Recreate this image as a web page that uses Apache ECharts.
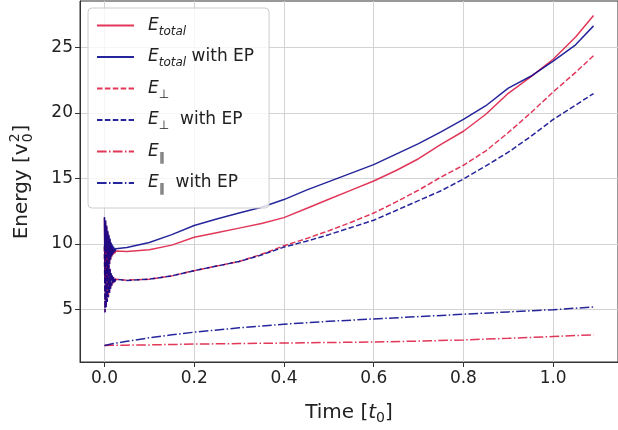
<!DOCTYPE html>
<html>
<head>
<meta charset="utf-8">
<script src="https://cdn.jsdelivr.net/npm/echarts@6/dist/echarts.min.js"></script>
<style>
  html, body { margin: 0; padding: 0; background: #ffffff; }
  #chart { width: 618px; height: 430px; }
</style>
</head>
<body>
<div id="chart"></div>
<script>
// ---- Initial ringing phase (fast oscillation right after start) ----
const tRinging = [0, 0.00125, 0.0025, 0.00375, 0.005, 0.00625, 0.0075, 0.00875,
  0.01, 0.01125, 0.0125, 0.01375, 0.015, 0.01625, 0.0175, 0.01875,
  0.02, 0.02125, 0.0225, 0.02375, 0.025, 0.02625, 0.0275, 0.02875];
const totalRinging   = [12.0, 7.05, 11.7, 7.4, 11.3, 7.8, 10.9, 8.15, 10.55, 8.45, 10.25, 8.78,
  9.93, 9.02, 9.76, 9.15, 9.62, 9.24, 9.53, 9.3, 9.46, 9.34, 9.41, 9.36];
const totalEPRinging = [12.05, 7.0, 11.8, 7.35, 11.4, 7.75, 11.0, 8.1, 10.7, 8.45, 10.4, 8.8,
  10.1, 9.05, 9.95, 9.2, 9.8, 9.35, 9.7, 9.42, 9.62, 9.48, 9.58, 9.52];
const perpRinging    = [9.8, 4.8, 9.5, 5.2, 9.1, 5.6, 8.7, 5.95, 8.35, 6.27, 8.05, 6.6,
  7.75, 6.82, 7.58, 6.96, 7.45, 7.06, 7.36, 7.13, 7.29, 7.18, 7.25, 7.21];
const perpEPRinging  = [9.85, 4.75, 9.55, 5.15, 9.15, 5.55, 8.75, 5.9, 8.4, 6.25, 8.1, 6.55,
  7.8, 6.8, 7.6, 6.95, 7.47, 7.05, 7.38, 7.12, 7.3, 7.17, 7.26, 7.2];

// ---- Smooth evolution after the ringing has decayed ----
const tMain = [0.03, 0.05, 0.1, 0.15, 0.2, 0.25, 0.3, 0.35, 0.4, 0.45, 0.5, 0.55,
  0.6, 0.65, 0.7, 0.75, 0.8, 0.85, 0.9, 0.95, 1.0, 1.05, 1.09];
const totalMain   = [9.36, 9.42, 9.55, 9.9, 10.5, 10.85, 11.2, 11.55, 12.0, 12.7, 13.4, 14.1,
  14.8, 15.6, 16.5, 17.6, 18.6, 19.9, 21.5, 22.75, 24.1, 25.8, 27.45];
const totalEPMain = [9.55, 9.72, 10.1, 10.7, 11.4, 11.9, 12.35, 12.8, 13.38, 14.1, 14.75, 15.4,
  16.05, 16.85, 17.65, 18.55, 19.5, 20.55, 21.9, 22.8, 23.95, 25.2, 26.65];
const perpMain    = [7.21, 7.22, 7.3, 7.55, 7.95, 8.3, 8.65, 9.2, 9.85, 10.4, 11.0, 11.65,
  12.35, 13.2, 14.1, 15.1, 16.0, 17.1, 18.5, 20.0, 21.6, 23.1, 24.37];
const perpEPMain  = [7.2, 7.2, 7.3, 7.55, 7.95, 8.3, 8.65, 9.15, 9.75, 10.2, 10.7, 11.25,
  11.8, 12.55, 13.3, 14.05, 14.95, 15.95, 17.0, 18.2, 19.5, 20.6, 21.48];

// ---- Parallel energy ----
const tPar   = [0, 0.02, 0.05, 0.1, 0.15, 0.2, 0.3, 0.4, 0.5, 0.6, 0.7, 0.8, 0.9, 1.0, 1.09];
const par    = [2.24, 2.25, 2.26, 2.28, 2.31, 2.34, 2.38, 2.42, 2.46, 2.5, 2.57, 2.66, 2.78, 2.92, 3.05];
const parEP  = [2.24, 2.38, 2.55, 2.82, 3.05, 3.25, 3.58, 3.86, 4.08, 4.26, 4.44, 4.62, 4.8, 4.97, 5.17];

// ---- Axis ticks ----
const xTicks = [0, 0.2, 0.4, 0.6, 0.8, 1.0];
const yTicks = [5, 10, 15, 20, 25];

const RED = 'rgba(220,20,60,0.85)';
const BLUE = 'rgba(0,0,139,0.85)';
const FONT = 'DejaVu Sans';
const TEXT = '#222222';

function pairs(ts, vs) { return ts.map((t, i) => [t, vs[i]]); }
function joined(ts1, vs1, ts2, vs2) { return pairs(ts1, vs1).concat(pairs(ts2, vs2)); }

const DASH = [5.5, 2.4];
const DASHDOT = [9.6, 2.4, 1.5, 2.4];

function lineSeries(name, data, color, type) {
  return {
    name, type: 'line', data,
    symbol: 'none', showSymbol: false,
    lineStyle: { color, width: 1.5, type },
    itemStyle: { color },
    emphasis: { disabled: true },
    z: 2
  };
}

const legendText = {
  'Etotal':    '{i|E}{s|total}',
  'Etotal EP': '{i|E}{s|total}{n| with EP}',
  'Eperp':     '{i|E}{u|⊥}',
  'Eperp EP':  '{i|E}{u|⊥}{n|  with EP}',
  'Epar':      '{i|E}{u|∥}',
  'Epar EP':   '{i|E}{u|∥}{n|  with EP}'
};

// Pieces of the rotated y-axis title: "Energy [v" + stacked 2/0 + "]"
const measure = document.createElement('canvas').getContext('2d');
function textWidth(str, size) {
  measure.font = size + 'px "' + FONT + '"';
  return measure.measureText(str).width;
}
const yTitleMain = 'Energy [v';
const wMain = textWidth(yTitleMain, 20);
const wScript = textWidth('2', 14);
const wClose = textWidth(']', 20);
const wAll = wMain + 1 + wScript + 1 + wClose;
const x0 = -wAll / 2;

const chart = echarts.init(document.getElementById('chart'), null, { renderer: 'canvas' });
chart.setOption({
  animation: false,
  backgroundColor: '#ffffff',
  grid: {
    left: 80, top: 1, width: 541, height: 363,
    show: true, borderColor: '#333333', borderWidth: 1, backgroundColor: 'transparent'
  },
  xAxis: {
    type: 'value', min: -0.0545, max: 1.1445,
    axisLine: { show: true, onZero: false, lineStyle: { color: '#333333', width: 1 } },
    axisTick: { show: true, length: 5, customValues: xTicks, lineStyle: { color: '#333333' } },
    axisLabel: {
      customValues: xTicks, margin: 8, color: TEXT, fontSize: 17, fontFamily: FONT,
      formatter: v => v.toFixed(1)
    },
    splitLine: { show: true, lineStyle: { color: '#d3d3d3', width: 1 } },
    name: '{a|Time [}{t|t}{s|0}{a|]}',
    nameLocation: 'middle', nameGap: 39,
    nameTextStyle: {
      color: TEXT, fontFamily: FONT, fontSize: 20,
      rich: {
        a: { fontSize: 20, fontFamily: FONT, color: TEXT, lineHeight: 24 },
        t: { fontSize: 20, fontFamily: FONT, color: TEXT, fontStyle: 'italic', lineHeight: 24 },
        s: { fontSize: 14, fontFamily: FONT, color: TEXT, lineHeight: 16, verticalAlign: 'bottom' }
      }
    }
  },
  yAxis: {
    type: 'value', min: 0.972, max: 28.55,
    axisLine: { show: true, onZero: false, lineStyle: { color: '#333333', width: 1 } },
    axisTick: { show: true, length: 5, customValues: yTicks, lineStyle: { color: '#333333' } },
    axisLabel: { customValues: yTicks, margin: 7, color: TEXT, fontSize: 17, fontFamily: FONT },
    splitLine: { show: true, lineStyle: { color: '#d3d3d3', width: 1 } }
  },
  legend: {
    orient: 'vertical', left: 88, top: 8,
    padding: [9, 15, 13, 8],
    itemWidth: 37, itemHeight: 14, itemGap: 11,
    backgroundColor: 'rgba(255,255,255,0.8)',
    borderColor: '#cccccc', borderWidth: 1, borderRadius: 4,
    selectedMode: false,
    itemStyle: { opacity: 0 },
    data: ['Etotal', 'Etotal EP', 'Eperp', 'Eperp EP', 'Epar', 'Epar EP'],
    formatter: name => legendText[name],
    textStyle: {
      color: TEXT, fontFamily: FONT, fontSize: 17, padding: [0, 0, 0, 9],
      rich: {
        i: { fontSize: 17, fontFamily: FONT, fontStyle: 'italic', color: TEXT, lineHeight: 24 },
        n: { fontSize: 17, fontFamily: FONT, color: TEXT, lineHeight: 24 },
        s: { fontSize: 12, fontFamily: FONT, fontStyle: 'italic', color: TEXT, lineHeight: 17, verticalAlign: 'bottom' },
        u: { fontSize: 12, fontFamily: FONT, color: TEXT, lineHeight: 17, verticalAlign: 'bottom' }
      }
    }
  },
  graphic: [{
    type: 'group', x: 22, y: 182, rotation: Math.PI / 2, silent: true,
    children: [
      { type: 'text', x: x0, y: 0, style: { text: yTitleMain, font: '20px "' + FONT + '"', fill: TEXT, align: 'left', verticalAlign: 'middle' } },
      { type: 'text', x: x0 + wMain + 1, y: -7, style: { text: '2', font: '14px "' + FONT + '"', fill: TEXT, align: 'left', verticalAlign: 'middle' } },
      { type: 'text', x: x0 + wMain + 1, y: 6, style: { text: '0', font: '14px "' + FONT + '"', fill: TEXT, align: 'left', verticalAlign: 'middle' } },
      { type: 'text', x: x0 + wMain + 2 + wScript, y: 0, style: { text: ']', font: '20px "' + FONT + '"', fill: TEXT, align: 'left', verticalAlign: 'middle' } }
    ]
  }],
  series: [
    lineSeries('Etotal', joined(tRinging, totalRinging, tMain, totalMain), RED, 'solid'),
    lineSeries('Etotal EP', joined(tRinging, totalEPRinging, tMain, totalEPMain), BLUE, 'solid'),
    lineSeries('Eperp', joined(tRinging, perpRinging, tMain, perpMain), RED, DASH),
    lineSeries('Eperp EP', joined(tRinging, perpEPRinging, tMain, perpEPMain), BLUE, DASH),
    lineSeries('Epar', pairs(tPar, par), RED, DASHDOT),
    lineSeries('Epar EP', pairs(tPar, parEP), BLUE, DASHDOT)
  ]
});
</script>
</body>
</html>
